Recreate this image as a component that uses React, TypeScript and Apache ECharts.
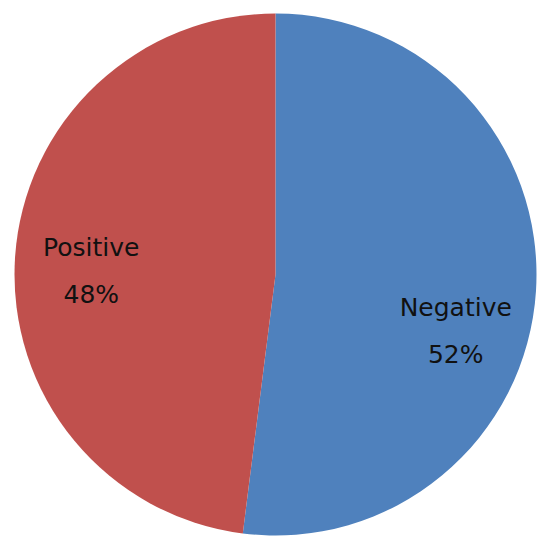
import React, { useEffect, useRef } from "react";
import * as echarts from "echarts";

const categories = ["Negative", "Positive"];
const values = [52, 48];
const colors = ["#4F81BD", "#C0504D"];

export default function App() {
  const ref = useRef<HTMLDivElement>(null);
  useEffect(() => {
    const chart = echarts.init(ref.current!, null, { renderer: "svg" });
    const shifts = [
      [47, 48],
      [-51, 5],
    ];
    chart.setOption({
      animation: false,
      backgroundColor: "#ffffff",
      series: [
        {
          type: "pie",
          center: [275.5, 274.5],
          radius: [0, 261],
          startAngle: 90,
          clockwise: true,
          data: categories.map((c, i) => ({
            name: c,
            value: values[i],
            itemStyle: { color: colors[i] },
          })),
          label: {
            show: true,
            position: "inside",
            formatter: "{b}\n{d}%",
            fontFamily: "DejaVu Sans",
            fontSize: 25,
            lineHeight: 47,
            color: "#111111",
            align: "center",
          },
          labelLayout: (p: any) => ({
            dx: shifts[p.dataIndex][0],
            dy: shifts[p.dataIndex][1],
          }),
          labelLine: { show: false },
          emphasis: { disabled: true },
        },
      ],
    });
    return () => chart.dispose();
  }, []);
  return (
    <div
      ref={ref}
      style={{ position: "fixed", left: 0, top: 0, width: 550, height: 547 }}
    />
  );
}
